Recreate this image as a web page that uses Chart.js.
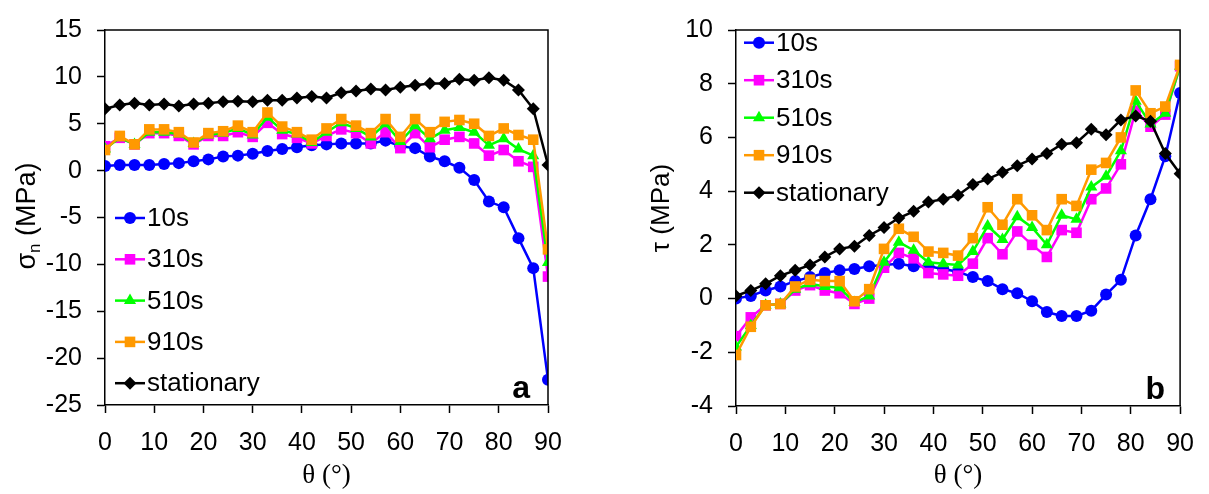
<!DOCTYPE html>
<html>
<head>
<meta charset="utf-8">
<script src="https://cdn.jsdelivr.net/npm/chart.js@4.4.0/dist/chart.umd.min.js"></script>
<style>
  body { margin: 0; background: #fff; }
  #wrap { position: relative; width: 1209px; height: 494px; }
  .panel { position: absolute; top: 0; height: 494px; }
</style>
</head>
<body>
<div id="wrap">
  <div class="panel" style="left:0;width:604px"><canvas id="chartA"></canvas></div>
  <div class="panel" style="left:604px;width:605px"><canvas id="chartB"></canvas></div>
</div>
<script>
// ---- data ----
const angles = [0, 3, 6, 9, 12, 15, 18, 21, 24, 27, 30, 33, 36, 39, 42, 45, 48, 51, 54, 57, 60, 63, 66, 69, 72, 75, 78, 81, 84, 87, 90];
const seriesLabels = ['10s', '310s', '510s', '910s', 'stationary'];

// panel a: normal stress sigma_n (MPa)
const sigma10  = [0.5, 0.6, 0.6, 0.6, 0.7, 0.8, 1.0, 1.2, 1.5, 1.6, 1.8, 2.1, 2.3, 2.5, 2.7, 2.8, 2.9, 2.9, 2.9, 3.2, 2.6, 2.4, 1.5, 1.0, 0.3, -1.0, -3.3, -3.9, -7.2, -10.4, -22.3];
const sigma310 = [2.6, 3.5, 2.8, 4.0, 4.0, 3.7, 2.8, 3.7, 3.7, 4.1, 3.6, 5.1, 3.9, 3.5, 2.9, 3.7, 4.4, 4.0, 2.9, 4.1, 2.4, 4.0, 2.5, 3.3, 3.6, 2.9, 1.6, 2.2, 1.0, 0.4, -11.3];
const sigma510 = [2.3, 3.5, 2.8, 4.1, 4.1, 3.9, 2.9, 3.8, 4.0, 4.5, 3.8, 5.7, 4.3, 3.9, 3.0, 4.1, 5.1, 4.5, 3.6, 5.0, 3.1, 4.8, 3.4, 4.3, 4.6, 4.1, 2.7, 3.4, 2.3, 1.6, -9.8];
const sigma910 = [2.2, 3.7, 2.8, 4.4, 4.4, 4.1, 3.0, 4.0, 4.2, 4.8, 4.1, 6.2, 4.7, 4.1, 3.3, 4.5, 5.5, 4.8, 4.0, 5.5, 3.6, 5.5, 4.1, 5.2, 5.4, 5.0, 3.7, 4.5, 3.8, 3.3, -8.4];
const sigmaStat = [6.6, 7.0, 7.2, 7.0, 7.1, 6.9, 7.1, 7.2, 7.35, 7.4, 7.35, 7.5, 7.5, 7.75, 7.9, 7.75, 8.3, 8.5, 8.7, 8.6, 8.9, 9.1, 9.3, 9.3, 9.75, 9.65, 9.9, 9.65, 8.6, 6.6, 0.6];

// panel b: shear stress tau (MPa)
const tau10  = [0.0, 0.1, 0.3, 0.45, 0.65, 0.8, 0.95, 1.05, 1.1, 1.2, 1.25, 1.3, 1.2, 1.2, 1.1, 1.0, 0.8, 0.65, 0.35, 0.2, -0.1, -0.5, -0.65, -0.65, -0.45, 0.15, 0.7, 2.35, 3.7, 5.3, 7.65];
const tau310 = [-1.4, -0.7, -0.25, -0.2, 0.3, 0.5, 0.3, 0.2, -0.2, 0.0, 1.15, 1.7, 1.5, 0.95, 0.9, 0.85, 1.3, 2.25, 1.65, 2.5, 2.0, 1.55, 2.55, 2.45, 3.7, 4.1, 5.0, 7.0, 6.4, 6.85, 8.65];
const tau510 = [-1.8, -1.0, -0.25, -0.2, 0.35, 0.55, 0.45, 0.4, -0.15, 0.1, 1.35, 2.1, 1.8, 1.35, 1.3, 1.25, 1.75, 2.7, 2.2, 3.05, 2.65, 2.0, 3.1, 2.95, 4.15, 4.55, 5.5, 7.35, 6.5, 6.9, 8.65];
const tau910 = [-2.1, -1.05, -0.25, -0.2, 0.45, 0.7, 0.65, 0.65, -0.1, 0.35, 1.85, 2.6, 2.3, 1.75, 1.7, 1.6, 2.25, 3.4, 2.75, 3.7, 3.1, 2.55, 3.7, 3.45, 4.8, 5.05, 6.0, 7.75, 6.9, 7.15, 8.7];
const tauStat = [0.1, 0.3, 0.55, 0.85, 1.05, 1.25, 1.55, 1.85, 1.95, 2.35, 2.65, 3.0, 3.25, 3.6, 3.7, 3.85, 4.25, 4.45, 4.7, 4.95, 5.2, 5.4, 5.75, 5.8, 6.3, 6.1, 6.65, 6.8, 6.6, 5.4, 4.65];

// ---- styles ----
const FONT = "'Liberation Sans', Arial, sans-serif";
const styles = [
  { color: '#0000ff', point: 'circle',   r: 6,   order: 5 },
  { color: '#ff00ff', point: 'rect',     r: 7.5, order: 4 },
  { color: '#00ff00', point: 'triangle', r: 7,   order: 3 },
  { color: '#ff9900', point: 'rect',     r: 7.5, order: 2 },
  { color: '#000000', point: 'rectRot',  r: 6.5, order: 1 }
];

function makeDatasets(seriesList) {
  return seriesList.map((vals, i) => ({
    label: seriesLabels[i],
    data: vals.map((v, j) => ({ x: angles[j], y: v })),
    borderColor: styles[i].color,
    backgroundColor: styles[i].color,
    borderWidth: 2.5,
    pointStyle: styles[i].point,
    pointRadius: styles[i].r,
    pointBorderWidth: 0,
    pointBackgroundColor: styles[i].color,
    tension: 0,
    order: styles[i].order
  }));
}

function makeScales(yMin, yMax, yStep, yWidth, xHeight) {
  const grid = { drawOnChartArea: false, drawTicks: true, tickLength: 8, tickColor: '#000', tickWidth: 1.5 };
  const border = { display: true, color: '#000', width: 1.5 };
  return {
    x: {
      type: 'linear', min: 0, max: 90,
      ticks: { stepSize: 10, color: '#000', font: { family: FONT, size: 25 }, padding: 15, maxRotation: 0 },
      grid, border,
      afterFit: s => { s.height = xHeight; }
    },
    y: {
      type: 'linear', min: yMin, max: yMax,
      ticks: { stepSize: yStep, color: '#000', font: { family: FONT, size: 25 }, padding: 15 },
      grid, border,
      afterFit: s => { s.width = yWidth; }
    }
  };
}

// frame, legend, axis titles and panel letter
function makeDeco(cfg) {
  return {
    id: 'deco',
    afterDraw(chart) {
      const ctx = chart.ctx;
      const a = chart.chartArea;
      ctx.save();
      ctx.strokeStyle = '#000';
      ctx.lineWidth = 1.5;
      ctx.beginPath();
      ctx.moveTo(a.left, a.top);
      ctx.lineTo(a.right, a.top);
      ctx.lineTo(a.right, a.bottom);
      ctx.stroke();

      // legend
      ctx.font = '26px ' + FONT;
      ctx.textBaseline = 'middle';
      ctx.textAlign = 'left';
      seriesLabels.forEach((lab, i) => {
        const y = cfg.legY + i * cfg.legStep;
        const st = styles[i];
        ctx.strokeStyle = st.color;
        ctx.fillStyle = st.color;
        ctx.lineWidth = 2.5;
        ctx.beginPath();
        ctx.moveTo(cfg.legX, y);
        ctx.lineTo(cfg.legX + 30, y);
        ctx.stroke();
        Chart.helpers.drawPoint(ctx, { pointStyle: st.point, radius: st.r, rotation: 0, borderWidth: 0 }, cfg.legX + 15, y);
        ctx.fillStyle = '#000';
        ctx.fillText(lab, cfg.legX + 32, y + 1);
      });

      // y title (rotated, with optional subscript)
      ctx.save();
      ctx.translate(cfg.yTitleX, cfg.yTitleY);
      ctx.rotate(-Math.PI / 2);
      let total = 0;
      cfg.yTitle.forEach(p => { ctx.font = p.size + 'px ' + FONT; total += ctx.measureText(p.t).width; });
      let x = -total / 2;
      ctx.fillStyle = '#000';
      cfg.yTitle.forEach(p => {
        ctx.font = p.size + 'px ' + FONT;
        ctx.fillText(p.t, x, p.dy || 0);
        x += ctx.measureText(p.t).width;
      });
      ctx.restore();

      // x title
      ctx.font = "27px 'Liberation Serif', 'Times New Roman', serif";
      ctx.textAlign = 'center';
      ctx.fillStyle = '#000';
      ctx.fillText('θ (°)', (a.left + a.right) / 2, 476);

      // panel letter
      ctx.font = 'bold 32px ' + FONT;
      ctx.textAlign = 'right';
      ctx.textBaseline = 'alphabetic';
      ctx.fillText(cfg.letter, a.right - cfg.letterDx, a.bottom - 7);
      ctx.restore();
    }
  };
}

function baseOptions(scales, pad) {
  return {
    responsive: true,
    maintainAspectRatio: false,
    animation: false,
    layout: { padding: pad },
    plugins: { legend: { display: false }, tooltip: { enabled: false } },
    scales: scales
  };
}

new Chart(document.getElementById('chartA'), {
  type: 'line',
  data: { datasets: makeDatasets([sigma10, sigma310, sigma510, sigma910, sigmaStat]) },
  options: baseOptions(makeScales(-25, 15, 5, 105, 89), { top: 16, right: 56, left: 0, bottom: 0 }),
  plugins: [makeDeco({
    legX: 115, legY: 218, legStep: 41.3,
    yTitleX: 28, yTitleY: 216,
    yTitle: [{ t: 'σ', size: 27 }, { t: 'n', size: 17, dy: 7 }, { t: ' (MPa)', size: 27 }],
    letter: 'a', letterDx: 18
  })]
});

new Chart(document.getElementById('chartB'), {
  type: 'line',
  data: { datasets: makeDatasets([tau10, tau310, tau510, tau910, tauStat]) },
  options: baseOptions(makeScales(-4, 10, 2, 132, 88), { top: 16, right: 22, left: 0, bottom: 0 }),
  plugins: [makeDeco({
    legX: 140, legY: 42.7, legStep: 37.5,
    yTitleX: 58, yTitleY: 208,
    yTitle: [{ t: 'τ (MPa)', size: 26 }],
    letter: 'b', letterDx: 15
  })]
});
</script>
</body>
</html>
